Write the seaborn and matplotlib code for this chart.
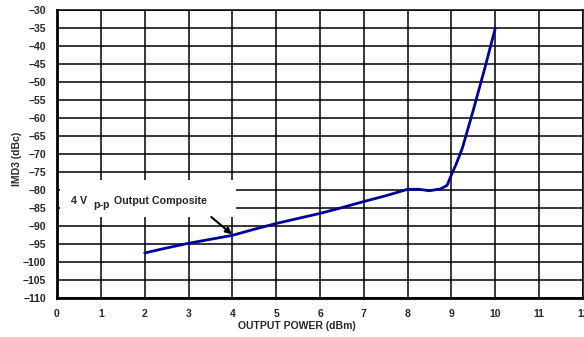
import matplotlib
matplotlib.use("Agg")
import matplotlib.pyplot as plt
import seaborn as sns
import pandas as pd
from matplotlib.patches import Rectangle

# Data
power_dbm = [2, 2.5, 3, 3.5, 4, 4.5, 5, 5.5, 6, 6.5, 7, 7.5, 8, 8.25, 8.5, 8.75, 8.9, 9, 9.1, 9.25, 9.5, 9.75, 10]
imd3_dbc = [-97.5, -96.1, -94.8, -93.7, -92.6, -90.9, -89.3, -87.9, -86.5, -84.9, -83.2, -81.6, -79.8, -79.8, -80.2, -79.7, -78.7, -75.7, -73.0, -68.3, -57.7, -46.6, -35.0]
x_ticks = list(range(0, 13))
y_ticks = list(range(-110, -29, 5))

sns.set_theme(style="white")
plt.rcParams['font.family'] = ['Liberation Sans', 'DejaVu Sans']

fig = plt.figure(figsize=(5.84, 3.37), dpi=100)
ax = fig.add_axes([57/584, 1-298/337, (583-57)/584, (298-10)/337])

df = pd.DataFrame({"power": power_dbm, "imd3": imd3_dbc})
sns.lineplot(data=df, x="power", y="imd3", ax=ax, color="#000099", linewidth=2.0, zorder=5)

ax.set_xlim(0, 12)
ax.set_ylim(-110, -30)
ax.set_xticks(x_ticks)
ax.set_yticks(y_ticks)
ax.set_xticklabels([str(t) for t in x_ticks], fontsize=7.5, fontweight="bold")
ax.set_yticklabels([f"\u2212{abs(t)}" for t in y_ticks], fontsize=7.5, fontweight="bold")
ax.grid(True, color="black", linewidth=1.1)
ax.set_axisbelow(True)
for s in ax.spines.values():
    s.set_color("black")
    s.set_linewidth(1.1)
ax.spines["left"].set_linewidth(2.0)
ax.spines["bottom"].set_linewidth(2.0)
ax.tick_params(axis="x", length=0, pad=8)
ax.tick_params(axis="y", length=0, pad=8)

ax.set_xlabel("OUTPUT POWER (dBm)", fontsize=7.5, fontweight="bold")
ax.xaxis.set_label_coords(0.456, -0.08)
ax.set_ylabel("IMD3 (dBc)", fontsize=7.5, fontweight="bold")
ax.yaxis.set_label_coords(-0.066, 0.483)

# annotation box (white, covering grid)
ax.add_patch(Rectangle((0.07, -87.5), 4.02, 10.3, facecolor="white", edgecolor="none", zorder=3))
ax.text(0.33, -84.0, "4 V", fontsize=7.7, fontweight="bold", ha="left", va="baseline", zorder=4)
ax.text(0.82, -85.1, "p-p", fontsize=7.7, fontweight="bold", ha="left", va="baseline", zorder=4)
ax.text(1.30, -84.0, "Output Composite", fontsize=7.7, fontweight="bold", ha="left", va="baseline", zorder=4)
ax.annotate("", xy=(3.99, -92.3), xytext=(3.52, -87.5),
            arrowprops=dict(arrowstyle="-|>", color="black", lw=1.5, mutation_scale=9,
                            shrinkA=0, shrinkB=0), zorder=6)

fig.savefig("out.png", dpi=100)
